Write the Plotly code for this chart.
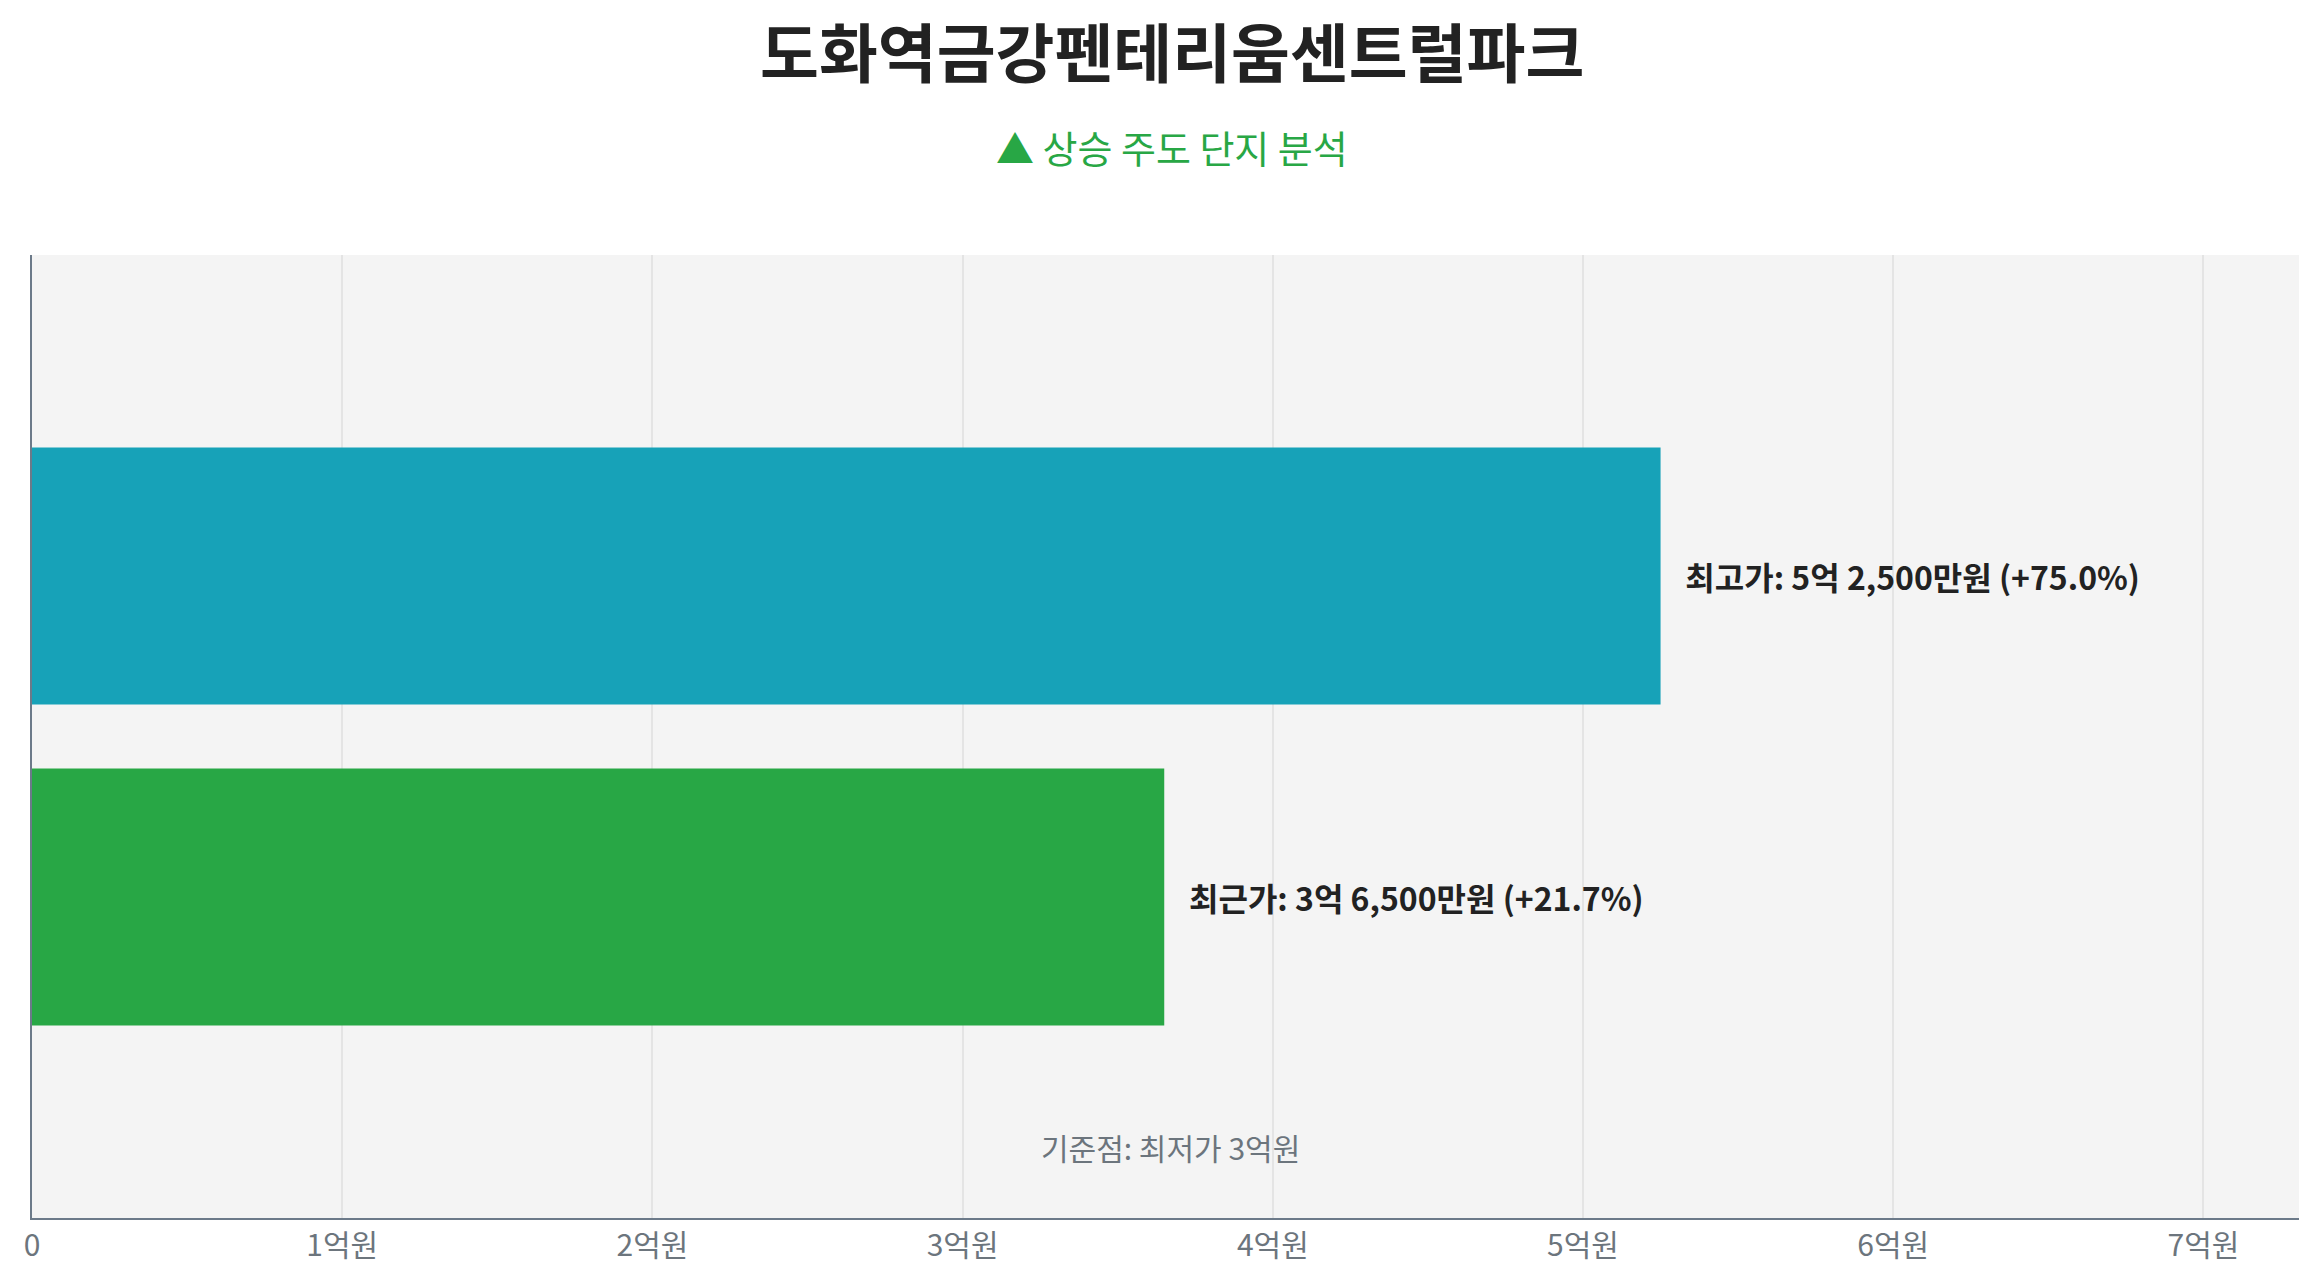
import plotly.graph_objects as go

# 데이터 (단위: 억원)
labels = ["최근가", "최고가"]
values = [3.65, 5.25]
texts = ["최근가: 3억 6,500만원 (+21.7%)", "최고가: 5억 2,500만원 (+75.0%)"]
colors = ["#28a745", "#17a2b8"]
tick_vals = [0, 1, 2, 3, 4, 5, 6, 7]
tick_text = ["0", "1억원", "2억원", "3억원", "4억원", "5억원", "6억원", "7억원"]

FONT = "Noto Sans CJK KR"

fig = go.Figure()
fig.add_trace(go.Bar(
    x=values, y=[0, 1], orientation="h",
    marker=dict(color=colors, line=dict(width=0)),
    width=0.8,
    text=["   " + t for t in texts], textposition="outside",
    textfont=dict(family=FONT, size=32, color="#222222", weight="bold"),
    cliponaxis=False, hoverinfo="skip",
))

fig.add_annotation(x=3.67, y=-0.78, text="기준점: 최저가 3억원", showarrow=False,
                   font=dict(family=FONT, size=30, color="#6c757d"))

# 제목 / 부제목
fig.add_annotation(xref="paper", yref="paper", x=0.5, y=1.214, yanchor="middle",
                   text="<b>도화역금강펜테리움센트럴파크</b>", showarrow=False,
                   font=dict(family=FONT, size=64, color="#222222"))
fig.add_annotation(xref="paper", yref="paper", x=0.5, y=1.113, yanchor="middle",
                   text="▲ 상승 주도 단지 분석", showarrow=False,
                   font=dict(family=FONT, size=38, color="#28a745"))

fig.update_layout(
    width=2307, height=1268,
    paper_bgcolor="white", plot_bgcolor="#f4f4f4",
    margin=dict(l=24, r=3, t=247, b=58),
    showlegend=False,
    xaxis=dict(range=[0, 7.35], tickvals=tick_vals, ticktext=tick_text,
               showgrid=True, gridcolor="#e4e4e4", gridwidth=2,
               showline=True, linecolor="#6c7a89", linewidth=2,
               zeroline=False,
               tickfont=dict(family=FONT, size=30, color="#6c757d")),
    yaxis=dict(range=[-1, 2], showticklabels=False, showgrid=False,
               zeroline=False, showline=True, linecolor="#6c7a89", linewidth=2),
)

fig.write_html("out.html")
